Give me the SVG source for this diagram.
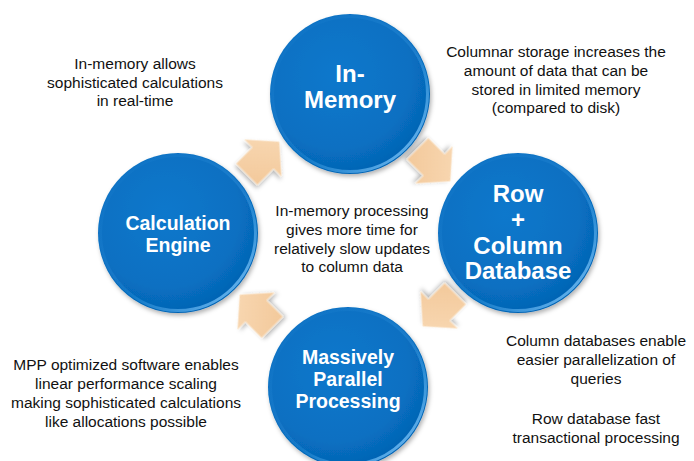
<svg xmlns="http://www.w3.org/2000/svg" width="694" height="461" viewBox="0 0 694 461">
  <defs>
    <radialGradient id="ballFill" cx="0.42" cy="0.38" r="0.65">
      <stop offset="0" stop-color="#1078cc"/>
      <stop offset="0.7" stop-color="#0870c2"/>
      <stop offset="1" stop-color="#0462b2"/>
    </radialGradient>
    <linearGradient id="rimGrad" x1="0" y1="0" x2="1" y2="1">
      <stop offset="0" stop-color="#2a8fdc" stop-opacity="0"/>
      <stop offset="0.55" stop-color="#3c9ee6" stop-opacity="0.3"/>
      <stop offset="1" stop-color="#8fd0ff" stop-opacity="1"/>
    </linearGradient>
    <linearGradient id="arrowFill" x1="0" y1="0" x2="1" y2="1">
      <stop offset="0" stop-color="#f9dab6"/>
      <stop offset="1" stop-color="#f2c798"/>
    </linearGradient>
    <filter id="shadow" x="-20%" y="-20%" width="140%" height="140%">
      <feDropShadow dx="1.5" dy="2.5" stdDeviation="2" flood-color="#000" flood-opacity="0.3"/>
    </filter>
    <path id="arrowShape" d="M0,-23 L26,0 L15,0 L15,23 L-15,23 L-15,0 L-26,0 Z"/>
  </defs>
  <style>
    .ball { fill: url(#ballFill); filter: url(#shadow); }
    .rim { fill: none; stroke: url(#rimGrad); stroke-width: 3; }
    .label { font-family: "Liberation Sans", Arial, sans-serif; font-weight: bold; fill: #ffffff; text-anchor: middle; }
    .big { font-size: 24px; }
    .mid { font-size: 19.5px; }
    .note { font-family: "Liberation Sans", Arial, sans-serif; font-size: 15.5px; fill: #111111; text-anchor: middle; }
    .arrow { fill: url(#arrowFill); stroke: #fdebd6; stroke-width: 0.8; filter: url(#shadow); }
  </style>
  <rect width="694" height="461" fill="#ffffff"/>

  <g id="connectors">
    <use href="#arrowShape" class="arrow" transform="translate(263,158) rotate(45)"/>
    <use href="#arrowShape" class="arrow" transform="translate(434,165) rotate(135)"/>
    <use href="#arrowShape" class="arrow" transform="translate(439,310) rotate(225)"/>
    <use href="#arrowShape" class="arrow" transform="translate(256,311) rotate(315)"/>
  </g>

  <g id="node-inmemory">
    <circle class="ball" cx="350" cy="94" r="80"/>
    <circle class="rim" cx="350" cy="94" r="77.5"/>
    <text class="label big" x="350" y="82">In-</text>
    <text class="label big" x="350" y="108">Memory</text>
  </g>

  <g id="node-rowcolumn">
    <circle class="ball" cx="518" cy="233" r="80"/>
    <circle class="rim" cx="518" cy="233" r="77.5"/>
    <text class="label big" x="518" y="202">Row</text>
    <text class="label big" x="518" y="228">+</text>
    <text class="label big" x="518" y="254">Column</text>
    <text class="label big" x="518" y="279">Database</text>
  </g>

  <g id="node-calc">
    <circle class="ball" cx="178" cy="233" r="80"/>
    <circle class="rim" cx="178" cy="233" r="77.5"/>
    <text class="label mid" x="178" y="230">Calculation</text>
    <text class="label mid" x="178" y="252">Engine</text>
  </g>

  <g id="node-mpp">
    <circle class="ball" cx="348" cy="387" r="80"/>
    <circle class="rim" cx="348" cy="387" r="77.5"/>
    <text class="label mid" x="348" y="364">Massively</text>
    <text class="label mid" x="348" y="386">Parallel</text>
    <text class="label mid" x="348" y="408">Processing</text>
  </g>

  <g id="note-topleft">
    <text class="note" x="135" y="69">In-memory allows</text>
    <text class="note" x="135" y="88">sophisticated calculations</text>
    <text class="note" x="135" y="106">in real-time</text>
  </g>

  <g id="note-topright">
    <text class="note" x="556" y="57">Columnar storage increases the</text>
    <text class="note" x="556" y="76">amount of data that can be</text>
    <text class="note" x="556" y="95">stored in limited memory</text>
    <text class="note" x="556" y="113">(compared to disk)</text>
  </g>

  <g id="note-center">
    <text class="note" x="352" y="216">In-memory processing</text>
    <text class="note" x="352" y="235">gives more time for</text>
    <text class="note" x="352" y="254">relatively slow updates</text>
    <text class="note" x="352" y="272">to column data</text>
  </g>

  <g id="note-bottomleft">
    <text class="note" x="126" y="370">MPP optimized software enables</text>
    <text class="note" x="126" y="389">linear performance scaling</text>
    <text class="note" x="126" y="408">making sophisticated calculations</text>
    <text class="note" x="126" y="427">like allocations possible</text>
  </g>

  <g id="note-bottomright">
    <text class="note" x="596" y="346">Column databases enable</text>
    <text class="note" x="596" y="365">easier parallelization of</text>
    <text class="note" x="596" y="384">queries</text>
    <text class="note" x="596" y="424">Row database fast</text>
    <text class="note" x="596" y="443">transactional processing</text>
  </g>
</svg>
